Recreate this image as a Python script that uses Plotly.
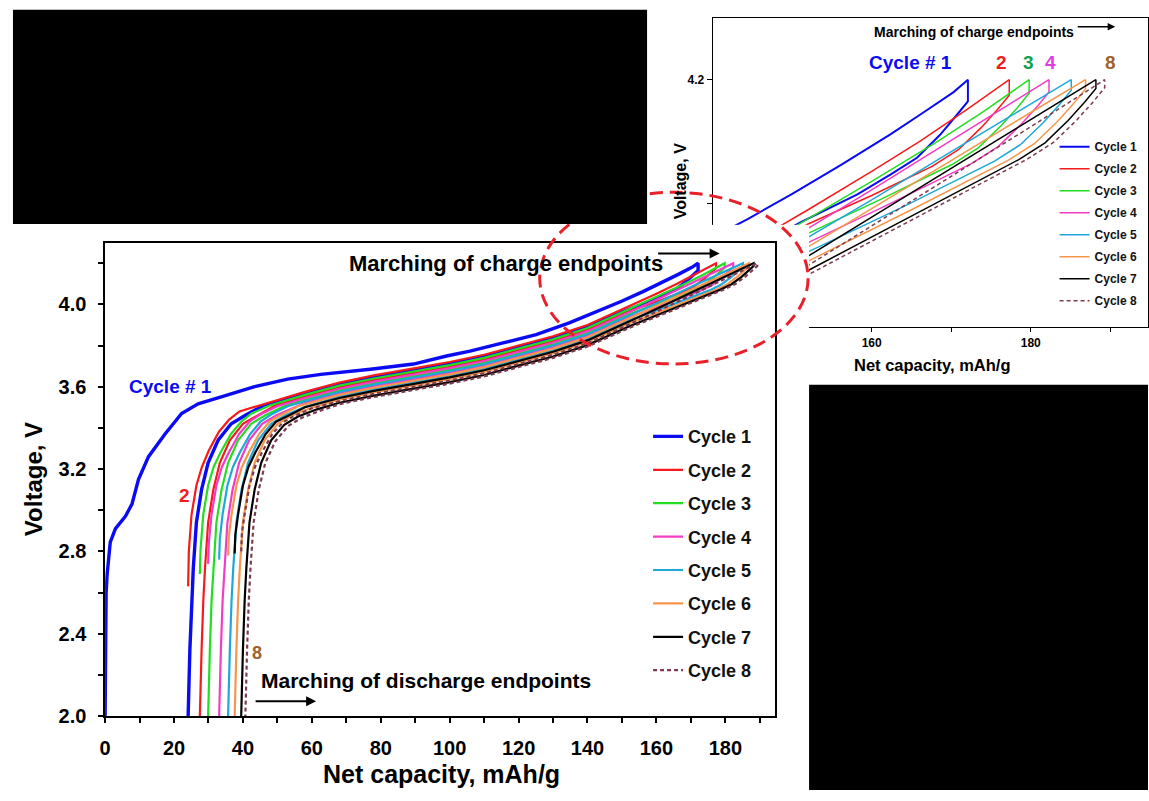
import plotly.graph_objects as go

W, H = 1149, 801
FONT = "Arial, 'Liberation Sans', Helvetica, sans-serif"

# ---------------------------------------------------------------------------
# Charge / discharge loops: net capacity (mAh/g) vs voltage (V), one loop per cycle
# (charge up to 4.2 V, short CV step, discharge back down to 2.0 V)
# ---------------------------------------------------------------------------
cycle1_cap = [0, 0.05, 0.3, 0.6, 1.5, 3.0, 5.9, 7.8, 9.7, 12.6, 17.4, 22.2, 27.0, 33.7, 43.4, 53.0,
              62.6, 77.0, 89.5, 99.1, 105.9, 115.5, 125.1, 134.7, 144.4, 149.9, 156.1, 162.4, 166.5,
              170.3, 172.1,
              172.1, 170.7, 168.6, 165.7, 162.4, 158.2, 154.9, 151.1, 140, 130, 121, 110, 100, 90, 78,
              68, 58, 46.1, 40.6, 36.6, 32.8, 29.9, 28.0, 26.5, 25.6, 25.1, 24.6, 24.1]
cycle1_volt = [2.0, 2.45, 2.6, 2.69, 2.845, 2.91, 2.97, 3.03, 3.15, 3.26, 3.37, 3.47, 3.517, 3.55, 3.60,
               3.637, 3.66, 3.685, 3.71, 3.749, 3.773, 3.813, 3.853, 3.91, 3.975, 4.015, 4.062, 4.112,
               4.147, 4.18, 4.20,
               4.165, 4.143, 4.111, 4.074, 4.047, 4.015, 3.994, 3.970, 3.892, 3.837, 3.797, 3.747,
               3.712, 3.682, 3.647, 3.612, 3.567, 3.51, 3.46, 3.42, 3.34, 3.23, 3.10, 2.94, 2.72,
               2.56, 2.32, 2.0]

cycle2_cap = [24.1, 24.3, 25.1, 26.5, 28.1, 30.1, 33.0, 36.0, 39.0, 43.0, 48.0, 58, 68, 78, 90, 100,
              110, 121, 130, 140, 152, 160, 166, 172, 177.3,
              177.3, 175.9, 173.8, 170.9, 167.6, 160, 152, 140, 130, 121, 110, 100, 90, 78, 68, 58,
              49.5, 44.0, 40.0, 36.2, 33.3, 31.4, 29.9, 29.0, 28.5, 28.0, 27.5]
cycle2_volt = [2.63, 2.80, 2.98, 3.12, 3.21, 3.29, 3.38, 3.44, 3.48, 3.50, 3.525, 3.575, 3.62, 3.655,
               3.69, 3.72, 3.755, 3.805, 3.845, 3.90, 3.99, 4.052, 4.10, 4.152, 4.20,
               4.175, 4.153, 4.123, 4.087, 4.06, 4.013, 3.967, 3.877, 3.822, 3.782, 3.732, 3.697,
               3.667, 3.632, 3.597, 3.552, 3.51, 3.46, 3.42, 3.34, 3.23, 3.10, 2.94, 2.72, 2.56,
               2.32, 2.00]

cycle3_cap = [27.5, 27.7, 28.5, 29.9, 31.5, 33.5, 36.5, 39.5, 42.5, 48, 58, 68, 78, 90, 100, 110, 121,
              130, 140, 152, 160, 168, 174, 179.8,
              179.8, 178.4, 176.3, 173.4, 170.1, 161, 152, 140, 130, 121, 110, 100, 90, 78, 68, 58,
              51.9, 46.4, 42.4, 38.6, 35.7, 33.8, 32.3, 31.4, 30.9, 30.4, 29.9]
cycle3_volt = [2.69, 2.81, 2.98, 3.12, 3.21, 3.28, 3.37, 3.43, 3.47, 3.51, 3.56, 3.605, 3.64, 3.675,
               3.705, 3.74, 3.79, 3.83, 3.885, 3.975, 4.036, 4.098, 4.148, 4.20,
               4.178, 4.156, 4.126, 4.09, 4.063, 4.006, 3.952, 3.862, 3.807, 3.767, 3.717, 3.682,
               3.652, 3.617, 3.582, 3.537, 3.505, 3.46, 3.42, 3.34, 3.23, 3.10, 2.94, 2.72, 2.56,
               2.32, 2.00]

cycle4_cap = [29.9, 30.1, 30.9, 32.3, 33.9, 35.9, 38.9, 41.9, 45.0, 50, 58, 68, 78, 90, 100, 110, 121,
              130, 140, 152, 160, 168, 176, 182.3,
              182.3, 180.9, 178.8, 175.9, 172.6, 162, 152, 140, 130, 121, 110, 100, 90, 78, 68, 58,
              55.1, 49.6, 45.6, 41.8, 38.9, 37.0, 35.5, 34.6, 34.1, 33.6, 33.1]
cycle4_volt = [2.74, 2.84, 2.98, 3.12, 3.21, 3.28, 3.37, 3.43, 3.465, 3.505, 3.545, 3.59, 3.625, 3.66,
               3.69, 3.725, 3.775, 3.815, 3.87, 3.96, 4.022, 4.086, 4.149, 4.20,
               4.180, 4.158, 4.128, 4.092, 4.065, 3.998, 3.937, 3.847, 3.792, 3.752, 3.702, 3.667,
               3.637, 3.602, 3.567, 3.522, 3.50, 3.46, 3.42, 3.34, 3.23, 3.10, 2.94, 2.72, 2.56,
               2.32, 2.00]

cycle5_cap = [33.1, 33.3, 34.1, 35.5, 37.1, 39.1, 42.1, 45.1, 48.2, 53, 58, 68, 78, 90, 100, 110, 121,
              130, 140, 152, 160, 170, 178, 185.1,
              185.1, 183.7, 181.6, 178.7, 175.4, 164, 152, 140, 130, 121, 110, 100, 90, 78, 68, 57.7,
              52.2, 48.2, 44.4, 41.5, 39.6, 38.1, 37.2, 36.7, 36.2, 35.7]
cycle5_volt = [2.76, 2.86, 2.98, 3.12, 3.21, 3.28, 3.37, 3.43, 3.465, 3.505, 3.53, 3.575, 3.61, 3.645,
               3.675, 3.71, 3.76, 3.80, 3.855, 3.945, 4.006, 4.084, 4.146, 4.20,
               4.183, 4.161, 4.131, 4.095, 4.068, 3.995, 3.922, 3.832, 3.777, 3.737, 3.687, 3.652,
               3.622, 3.587, 3.552, 3.50, 3.46, 3.42, 3.34, 3.23, 3.10, 2.94, 2.72, 2.56, 2.32, 2.00]

cycle6_cap = [35.7, 35.9, 36.7, 38.1, 39.7, 41.7, 44.7, 47.7, 50.8, 56, 68, 78, 90, 100, 110, 121, 130,
              140, 152, 160, 170, 180, 186.9,
              186.9, 185.5, 183.4, 180.5, 177.2, 165, 152, 140, 130, 121, 110, 100, 90, 78, 68, 59.6,
              54.1, 50.1, 46.3, 43.4, 41.5, 40.0, 39.1, 38.6, 38.1, 37.6]
cycle6_volt = [2.78, 2.87, 2.98, 3.12, 3.21, 3.28, 3.37, 3.43, 3.46, 3.505, 3.56, 3.595, 3.63, 3.66,
               3.695, 3.745, 3.785, 3.84, 3.93, 3.992, 4.07, 4.147, 4.20,
               4.185, 4.163, 4.133, 4.097, 4.07, 3.99, 3.907, 3.817, 3.762, 3.722, 3.672, 3.637,
               3.607, 3.572, 3.537, 3.495, 3.46, 3.42, 3.34, 3.23, 3.10, 2.94, 2.72, 2.56, 2.32, 2.00]

cycle7_cap = [37.6, 37.8, 38.6, 40.0, 41.6, 43.6, 46.6, 49.6, 52.7, 58, 68, 78, 90, 100, 110, 121, 130,
              140, 152, 160, 170, 180, 188.2,
              188.2, 186.8, 184.7, 181.8, 178.5, 165, 152, 140, 130, 121, 110, 100, 90, 78, 68, 61.5,
              56.0, 52.0, 48.2, 45.3, 43.4, 41.9, 41.0, 40.5, 40.0, 39.5]
cycle7_volt = [2.79, 2.88, 2.98, 3.12, 3.21, 3.28, 3.37, 3.43, 3.455, 3.50, 3.545, 3.58, 3.615, 3.645,
               3.68, 3.73, 3.77, 3.825, 3.915, 3.978, 4.057, 4.135, 4.20,
               4.186, 4.164, 4.134, 4.098, 4.071, 3.98, 3.892, 3.802, 3.747, 3.707, 3.657, 3.622,
               3.592, 3.557, 3.522, 3.49, 3.455, 3.415, 3.34, 3.23, 3.10, 2.94, 2.72, 2.56, 2.32, 2.00]

cycle8_cap = [39.5, 39.7, 40.5, 41.9, 43.5, 45.5, 48.5, 51.5, 54.6, 60, 68, 78, 90, 100, 110, 121, 130,
              140, 152, 160, 170, 180, 189.3,
              189.3, 187.9, 185.8, 182.9, 179.6, 166, 152, 140, 130, 121, 110, 100, 90, 78, 68, 62.7,
              57.2, 53.2, 49.4, 46.5, 44.6, 43.1, 42.2, 41.7, 41.2, 40.7]
cycle8_volt = [2.80, 2.89, 2.98, 3.12, 3.21, 3.28, 3.37, 3.425, 3.455, 3.495, 3.53, 3.565, 3.60, 3.63,
               3.665, 3.715, 3.755, 3.81, 3.90, 3.964, 4.044, 4.124, 4.20,
               4.187, 4.165, 4.135, 4.099, 4.072, 3.98, 3.885, 3.795, 3.74, 3.70, 3.65, 3.615, 3.585,
               3.55, 3.515, 3.485, 3.45, 3.41, 3.335, 3.23, 3.10, 2.94, 2.72, 2.56, 2.32, 2.00]

cycle_names = ["Cycle 1", "Cycle 2", "Cycle 3", "Cycle 4",
               "Cycle 5", "Cycle 6", "Cycle 7", "Cycle 8"]
cycle_caps = [cycle1_cap, cycle2_cap, cycle3_cap, cycle4_cap,
              cycle5_cap, cycle6_cap, cycle7_cap, cycle8_cap]
cycle_volts = [cycle1_volt, cycle2_volt, cycle3_volt, cycle4_volt,
               cycle5_volt, cycle6_volt, cycle7_volt, cycle8_volt]

# main axis ticks
main_x_ticks = list(range(0, 200, 10))
main_x_labels = [str(v) if v % 20 == 0 else "" for v in main_x_ticks]
main_y_ticks = [2.0, 2.2, 2.4, 2.6, 2.8, 3.0, 3.2, 3.4, 3.6, 3.8, 4.0, 4.2]
main_y_labels = ["2.0", "", "2.4", "", "2.8", "", "3.2", "", "3.6", "", "4.0", ""]
# zoomed view ticks
zoom_x_ticks = [150, 160, 170, 180, 190]
zoom_x_labels = ["", "160", "", "180", ""]
zoom_y_ticks = [4.0, 4.2]
zoom_y_labels = ["", "4.2"]

# styling
colors = ["#0A0AF5", "#F51B1B", "#22DD22", "#F23CC6", "#1EA8DA", "#F7964A", "#000000", "#7E3B4E"]
dashes = ["solid"] * 7 + ["4px,3px"]
main_widths = [3.4, 2.2, 2.2, 2.2, 2.2, 2.2, 2.2, 2.2]
zoom_widths = [2, 1.5, 1.5, 1.5, 1.5, 1.5, 1.5, 1.5]


def px(x):
    return x / W


def py(y):
    return 1 - y / H


fig = go.Figure()

# zoomed view of the charge endpoints (subplot xy)
for i in range(8):
    fig.add_trace(go.Scatter(
        x=cycle_caps[i], y=cycle_volts[i], mode="lines", name=cycle_names[i],
        line=dict(color=colors[i], width=zoom_widths[i], dash=dashes[i]),
        xaxis="x", yaxis="y", legend="legend2", legendgroup=f"z{i}",
        hoverinfo="skip"))

# white panel of the full view, laid over the zoomed view (subplot x2y2)
fig.add_trace(go.Scatter(x=[], y=[], xaxis="x2", yaxis="y2", showlegend=False,
                         hoverinfo="skip"))

# full view (subplot x3y3)
for i in range(8):
    fig.add_trace(go.Scatter(
        x=cycle_caps[i], y=cycle_volts[i], mode="lines", name=cycle_names[i],
        line=dict(color=colors[i], width=main_widths[i], dash=dashes[i]),
        xaxis="x3", yaxis="y3", legend="legend", legendgroup=f"m{i}",
        hoverinfo="skip"))

axis_common = dict(showgrid=False, zeroline=False, showline=True, linecolor="black",
                   mirror=True, ticks="outside", tickcolor="black")

fig.update_layout(
    width=W, height=H,
    margin=dict(l=0, r=0, t=0, b=0),
    paper_bgcolor="white", plot_bgcolor="white",
    font=dict(family=FONT, color="black"),
    xaxis=dict(axis_common, domain=[px(711), 1.0], range=[140, 194.75], anchor="y",
               linewidth=1, ticklen=4, tickwidth=1,
               tickvals=zoom_x_ticks, ticktext=zoom_x_labels,
               tickfont=dict(size=12, family=FONT, weight="bold")),
    yaxis=dict(axis_common, domain=[py(332), py(18)], range=[3.8, 4.3], anchor="x",
               linewidth=1, ticklen=5, tickwidth=1,
               tickvals=zoom_y_ticks, ticktext=zoom_y_labels,
               tickfont=dict(size=12, family=FONT, weight="bold")),
    xaxis2=dict(domain=[0, px(808)], range=[0, 1], visible=False, anchor="y2"),
    yaxis2=dict(domain=[0, py(228)], range=[0, 1], visible=False, anchor="x2"),
    xaxis3=dict(axis_common, domain=[px(99.7), px(774)], range=[0, 194.5], anchor="y3",
                linewidth=1.5, ticklen=5, tickwidth=1.5,
                tickvals=main_x_ticks, ticktext=main_x_labels, ticklabelstandoff=8,
                tickfont=dict(size=20, family=FONT, weight="bold")),
    yaxis3=dict(axis_common, domain=[py(726), py(246)], range=[2.0, 4.3], anchor="x3",
                linewidth=1.5, ticklen=5, tickwidth=1.5,
                tickvals=main_y_ticks, ticktext=main_y_labels, ticklabelstandoff=8,
                tickfont=dict(size=20, family=FONT, weight="bold")),
    legend=dict(x=px(646), y=py(424), xanchor="left", yanchor="top",
                bgcolor="rgba(0,0,0,0)", tracegroupgap=7, itemwidth=30,
                font=dict(size=18, family=FONT, weight="bold", color="#111")),
    legend2=dict(x=px(1055), y=py(134), xanchor="left", yanchor="top",
                 bgcolor="rgba(0,0,0,0)", tracegroupgap=3, itemwidth=30,
                 font=dict(size=12, family=FONT, weight="bold", color="#111")),
    showlegend=True,
)

# highlight ellipse, then the masking blocks drawn over it
fig.add_shape(type="circle", xref="paper", yref="paper", x0=px(537), x1=px(807), y0=py(369),
              y1=py(195), line=dict(color="#E8202A", width=3, dash="13px,7px"), layer="above")
fig.add_shape(type="rect", xref="paper", yref="paper", x0=px(7), x1=px(645), y0=py(227), y1=py(10),
              fillcolor="black", line=dict(width=0), layer="above")
fig.add_shape(type="rect", xref="paper", yref="paper", x0=px(808), x1=1.0, y0=0, y1=py(390),
              fillcolor="black", line=dict(width=0), layer="above")


def label(text, x, y, size, color="black", angle=0):
    fig.add_annotation(text=text, x=px(x), y=py(y), xref="paper", yref="paper",
                       showarrow=False, xanchor="center", yanchor="middle", textangle=angle,
                       font=dict(size=size, color=color, family=FONT, weight="bold"))


def arrow(x0, x1, y, width=2):
    fig.add_annotation(text="", x=px(x1), y=py(y), xref="paper", yref="paper",
                       ax=x0 - x1, ay=0, showarrow=True, arrowhead=2, arrowsize=1,
                       arrowwidth=width, arrowcolor="black")


# full view texts
label("Net capacity, mAh/g", 438, 785, 25)
label("Voltage, V", 27, 486, 24, angle=-90)
label("Marching of charge endpoints", 503, 267, 22)
arrow(655, 718, 257)
label("Cycle # 1", 166, 392, 19, color=colors[0])
label("2", 180, 502, 19, color=colors[1])
label("8", 253, 662, 18, color="#A0622A")
label("Marching of discharge endpoints", 423, 690, 21)
arrow(250, 312, 711)

# zoomed view texts
label("Net capacity, mAh/g", 932, 370, 16.5)
label("Voltage, V", 679, 184, 16, angle=-90)
label("Marching of charge endpoints", 974, 32, 14)
arrow(1077, 1116, 27, width=1.5)
label("Cycle # 1", 910, 63, 19, color=colors[0])
label("2", 1002, 63, 19, color=colors[1])
label("3", 1029, 63, 19, color="#14A04E")
label("4", 1051, 63, 19, color="#E23CE0")
label("8", 1111, 63, 19, color="#A0622A")

fig.write_html("out.html")
